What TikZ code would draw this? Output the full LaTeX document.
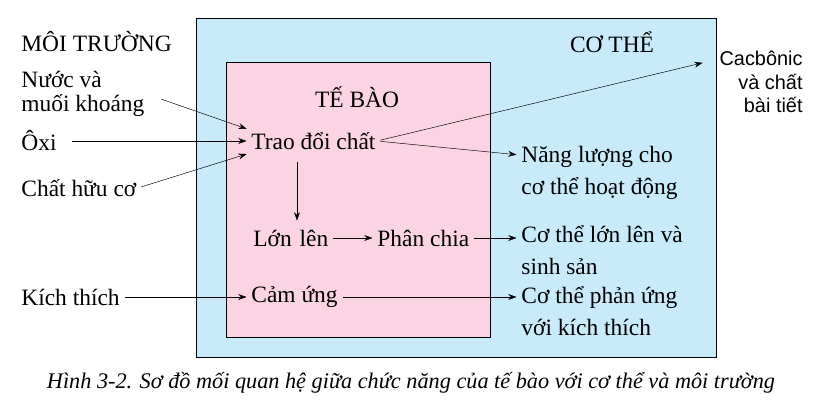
\documentclass[tikz,border=0pt]{standalone}
\usepackage{fontspec}
\setmainfont{Liberation Serif}
\newfontfamily\sansfnt{Liberation Sans}
\usetikzlibrary{arrows.meta}
\definecolor{skyblue}{RGB}{200,234,249}
\definecolor{rosepink}{RGB}{250,212,227}
\tikzset{
  lbl/.style={font=\fontsize{20}{23}\selectfont, inner sep=1pt},
  lft/.style={lbl, anchor=west, align=left},
  arr/.style={-{Stealth[length=7pt,width=5pt]}, thin, shorten >=3pt, shorten <=3pt}
}
\begin{document}
\begin{tikzpicture}[x=0.03cm,y=-0.03cm]
    % page
    \useasboundingbox (0,0) rectangle (822,411);

    % the two boxes
    \draw[fill=skyblue] (196,18) rectangle (716,357);
    \draw[fill=rosepink] (226,62) rectangle (490,337);

    % titles
    \node[lft] (env) at (20,42) {MÔI TRƯỜNG};
    \node[lbl] (body) at (612,42) {CƠ THỂ};
    \node[lbl] (cell) at (357,97) {TẾ BÀO};

    % inputs
    \node[lft] (water) at (20,94) {Nước và\\[-2pt]muối khoáng};
    \node[lft] (oxy) at (20,141) {Ôxi};
    \node[lft] (org) at (20,188) {Chất hữu cơ};
    \node[lft] (stim) at (20,297) {Kích thích};

    % cell functions
    \node[lft] (meta) at (250,141) {Trao đổi chất};
    \node[lft] (grow) at (252,238) {Lớn\,\,lên};
    \node[lft] (div) at (376,238) {Phân chia};
    \node[lft] (resp) at (250,297) {Cảm ứng};

    % outputs
    \node[lbl, align=right, anchor=east, font=\sansfnt\fontsize{17}{20}\selectfont] (waste) at (804,82) {Cacbônic\\và chất\\bài tiết};
    \node[lft] (energy) at (520,173) {Năng lượng cho\\[4pt]cơ thể hoạt động};
    \node[lft] (repro) at (520,250) {Cơ thể lớn lên và\\[4pt]sinh sản};
    \node[lft] (react) at (520,311) {Cơ thể phản ứng\\[4pt]với kích thích};

    % connectors
    \draw[arr] (158,98) -- (meta.west|-0,130);
    \draw[arr] (68,141) -- (meta.west);
    \draw[arr] (org.east) -- (meta.west|-0,153);
    \draw[arr] (meta.east) -- (706,62);
    \draw[arr] (meta.east) -- (energy.west|-0,155);
    \draw[arr] (297,158) -- (297,224);
    \draw[arr] (grow.east) -- (div.west);
    \draw[arr] (div.east) -- (repro.west|-div);
    \draw[arr] (stim.east) -- (resp.west);
    \draw[arr] (resp.east) -- (react.west|-resp);

    % caption
    \node[lbl, font=\fontsize{19}{22}\selectfont\itshape] (cap) at (411,383)
      {Hình 3-2. Sơ đồ mối quan hệ giữa chức năng của tế bào với cơ thể và môi trường};
\end{tikzpicture}
\end{document}
